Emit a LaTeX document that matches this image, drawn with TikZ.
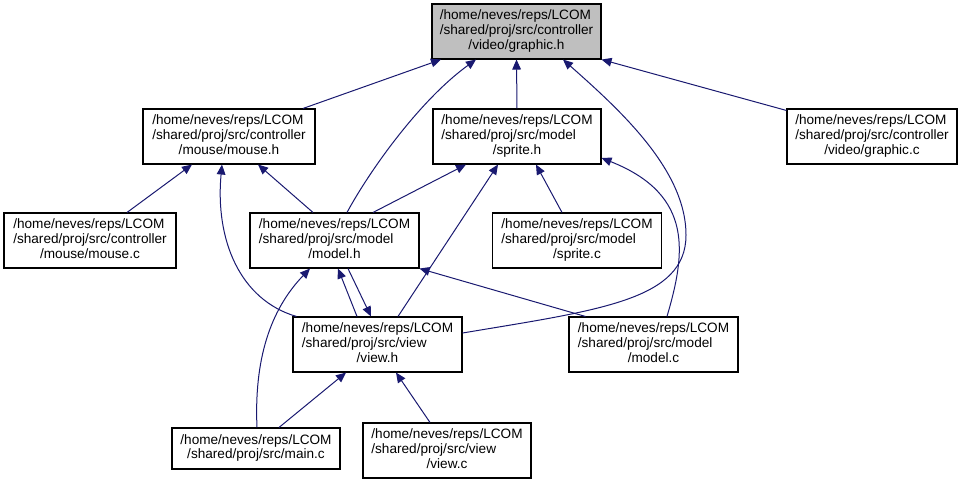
\documentclass[tikz,border=0pt]{standalone}
\usepackage{fontspec}
\setmainfont{Liberation Sans}
\usetikzlibrary{arrows.meta}
\definecolor{edgeblue}{HTML}{191970}
\definecolor{rootgray}{HTML}{BFBFBF}
\newcommand{\threel}[3]{\begin{tabular}{@{}l@{}}#1\\#2\\\multicolumn{1}{@{}c@{}}{#3}\end{tabular}}
\newcommand{\twol}[2]{\begin{tabular}{@{}l@{}}#1\\\multicolumn{1}{@{}c@{}}{#2}\end{tabular}}
\tikzset{
  filebox/.style={draw=black, line width=0.8pt, fill=white, inner sep=0pt,
    minimum height=41.25pt, font=\fontsize{10.2}{11.2}\selectfont},
  bw/.style={minimum width=#1*0.75pt},
  edge/.style={draw=edgeblue, line width=0.75pt,
    -{Triangle[length=7.5pt,width=6.5pt]}}
}
\begin{document}
\begin{tikzpicture}[x=0.75pt,y=-0.75pt]
\useasboundingbox (0,0) rectangle (961,483);
% nodes
\node[filebox, bw=169, fill=rootgray] (gh) at (516.5,31.5)
  {\threel{/home/neves/reps/LCOM}{/shared/proj/src/controller}{/video/graphic.h}};
\node[filebox, bw=172] (mh) at (229,136.5)
  {\threel{/home/neves/reps/LCOM}{/shared/proj/src/controller}{/mouse/mouse.h}};
\node[filebox, bw=168] (sh) at (517,136.5)
  {\threel{/home/neves/reps/LCOM}{/shared/proj/src/model}{/sprite.h}};
\node[filebox, bw=170] (gc) at (872,136.5)
  {\threel{/home/neves/reps/LCOM}{/shared/proj/src/controller}{/video/graphic.c}};
\node[filebox, bw=172] (mc) at (90,240.5)
  {\threel{/home/neves/reps/LCOM}{/shared/proj/src/controller}{/mouse/mouse.c}};
\node[filebox, bw=169] (mdh) at (334.5,240.5)
  {\threel{/home/neves/reps/LCOM}{/shared/proj/src/model}{/model.h}};
\node[filebox, bw=169] (sc) at (577,240.5)
  {\threel{/home/neves/reps/LCOM}{/shared/proj/src/model}{/sprite.c}};
\node[filebox, bw=169] (vh) at (377.5,344.5)
  {\threel{/home/neves/reps/LCOM}{/shared/proj/src/view}{/view.h}};
\node[filebox, bw=169] (mdc) at (653.5,344.5)
  {\threel{/home/neves/reps/LCOM}{/shared/proj/src/model}{/model.c}};
\node[filebox, bw=168, minimum height=30.75pt] (main) at (256,448.5)
  {\twol{/home/neves/reps/LCOM}{/shared/proj/src/main.c}};
\node[filebox, bw=168] (vc) at (447,450.5)
  {\threel{/home/neves/reps/LCOM}{/shared/proj/src/view}{/view.c}};
% edges
\draw[edge] ([shift={(74,0)}]mh.north) -- ([shift={(-75.5,0)}]gh.south);
\draw[edge] ([shift={(12.5,0)}]mdh.north) .. controls (370,170) and (420,100) .. ([shift={(-40.5,0)}]gh.south);
\draw[edge] (sh.north) -- (gh.south);
\draw[edge] ([shift={(0,-11.5)}]vh.east) .. controls (600,310) and (686,300) .. (686,235)
  .. controls (686,170) and (620,110) .. ([shift={(46.5,0)}]gh.south);
\draw[edge] ([shift={(0,2)}]gc.north west) -- (gh.south east);
\draw[edge] ([shift={(37,0)}]mc.north) -- ([shift={(-37,0)}]mh.south);
\draw[edge] ([shift={(-21.5,0)}]mdh.north) -- ([shift={(29,0)}]mh.south);
\draw[edge] ([shift={(4,0)}]vh.north west) .. controls (240,300) and (215,240) .. ([shift={(-7,0)}]mh.south);
\draw[edge] ([shift={(38.5,0)}]mdh.north) -- ([shift={(-51,0)}]sh.south);
\draw[edge] ([shift={(20.5,0)}]vh.north) -- ([shift={(-19,0)}]sh.south);
\draw[edge] ([shift={(-15,0)}]sc.north) -- ([shift={(19,0)}]sh.south);
\draw[edge] ([shift={(13.5,0)}]mdc.north) .. controls (685,255) and (695,195) .. ([shift={(0,21.5)}]sh.east);
\draw[edge] ([shift={(-20.5,0)}]vh.north) -- ([shift={(3.5,0)}]mdh.south);
\draw[edge] ([shift={(13.5,0)}]mdh.south) -- ([shift={(-6.5,0)}]vh.north);
\draw[edge] ([shift={(17,0)}]mdc.north west) -- (mdh.south east);
\draw[edge] ([shift={(23,0)}]main.north) -- ([shift={(-31.5,0)}]vh.south);
\draw[edge] ([shift={(-17,0)}]vc.north) -- ([shift={(18.5,0)}]vh.south);
\draw[edge] ([shift={(1,0)}]main.north) .. controls (254,360) and (270,310) .. ([shift={(-24.5,0)}]mdh.south);
\end{tikzpicture}
\end{document}
